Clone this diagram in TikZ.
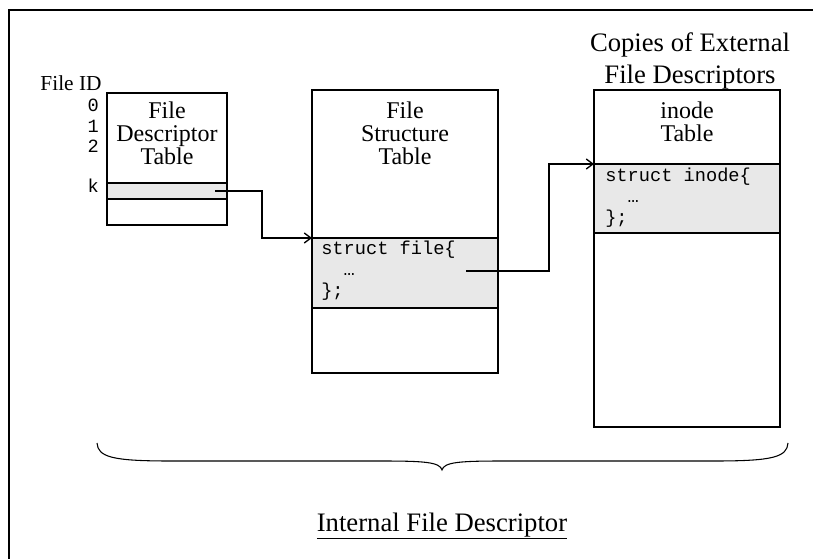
\documentclass[tikz,border=0pt]{standalone}
\usepackage{fontspec}
\setmainfont{Liberation Serif}
\newfontfamily\codefont{Liberation Mono}
\usetikzlibrary{arrows.meta}
\definecolor{rowgray}{HTML}{E8E8E8}
\begin{document}
\begin{tikzpicture}[x=0.75pt,y=-0.75pt,
  tbl/.style={draw=black, line width=1pt, inner sep=0pt, outer sep=0pt},
  slot/.style={tbl, fill=rowgray},
  title/.style={font=\fontsize{18}{17.6}\selectfont, align=center, inner sep=0pt, anchor=base},
  code/.style={font=\codefont\fontsize{14}{14}\selectfont, inner sep=0pt, anchor=base west},
  fid/.style={font=\codefont\fontsize{14}{14}\selectfont, inner sep=0pt, anchor=base east},
  link/.style={line width=1pt, -{Straight Barb[length=5pt,width=7.5pt]}}]
\useasboundingbox (0,0) rectangle (813,559);

% outer frame
\draw[line width=2pt] (9,10) rectangle (840,590);

% file descriptor table
\node[tbl, minimum width=90pt, minimum height=99pt] (fdt) at (167,159) {};
\node[slot, minimum width=90pt, minimum height=12pt] (fdtk) at (167,191) {};
% (base anchor of a multi-line title sits on its last line)
\node[title] (fdtT) at (167,165) {File\\Descriptor\\Table};
\node[font=\fontsize{16}{16}\selectfont, inner sep=0pt, anchor=base] (fidT) at (71,91) {File ID};
\node[fid] (id0) at (99,112) {0};
\node[fid] (id1) at (99,133) {1};
\node[fid] (id2) at (99,153) {2};
\node[fid] (idk) at (99,193) {k};

% file structure table
\node[tbl, minimum width=139.5pt, minimum height=212.25pt] (fst) at (405,231.5) {};
\node[slot, minimum width=139.5pt, minimum height=52.5pt] (fstrow) at (405,273) {};
\node[title] (fstT) at (405,165) {File\\Structure\\Table};
\node[code] (fc1) at (321,255) {struct file\{};
\node[code] (fc2) at (321,276) {\hphantom{xx}…};
\node[code] (fc3) at (321,297) {\};};

% inode table
\node[tbl, minimum width=139.5pt, minimum height=252.75pt] (ino) at (687,258.5) {};
\node[slot, minimum width=139.5pt, minimum height=51.75pt] (inorow) at (687,198.5) {};
\node[title] (inoT) at (687,142) {inode\\Table};
\node[title, font=\fontsize{20}{24}\selectfont] (ext) at (690,84) {Copies of External\\File Descriptors};
\node[code] (ic1) at (605,182) {struct inode\{};
\node[code] (ic2) at (605,203) {\hphantom{xx}…};
\node[code] (ic3) at (605,224) {\};};

% pointers
\coordinate (kptr) at (215,191);
\coordinate (fptr) at (466,271);
\draw[link] (kptr) -- ++(47,0) |- (fstrow.north west);
\draw[link] (fptr) -- ++(83,0) |- (inorow.north west);

% brace over the three tables
\draw[line width=0.8pt]
  (97,443) .. controls (98,457) and (112,461) .. (170,461) -- (380,461)
  .. controls (424,461) and (440,462) .. (442,470)
  .. controls (444,462) and (460,461) .. (504,461) -- (715,461)
  .. controls (773,461) and (787,457) .. (788,443);
\node[font=\fontsize{20}{24}\selectfont, inner sep=0pt, anchor=base] (ifd) at (442,531) {\underline{Internal File Descriptor}};
\end{tikzpicture}
\end{document}
